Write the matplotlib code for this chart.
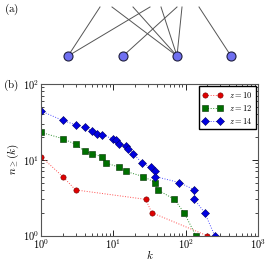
import numpy as np
import matplotlib
matplotlib.use("Agg")
import matplotlib.pyplot as plt

plt.rcParams['mathtext.fontset'] = 'cm'
plt.rcParams['font.family'] = 'serif'
plt.rcParams['font.serif'] = ['DejaVu Serif']

# panel (a): bipartite sketch, top ends and bottom nodes (pixel coords)
node_x = [68, 123, 177, 231]
edge_top = [100, 112, 133, 150, 161, 177, 182, 199]
edge_node = [0, 2, 2, 0, 2, 1, 2, 3]

# panel (b): cumulative degree counts
k10 = [1, 2, 3, 28, 34, 195]
n10 = [11, 6, 4, 3, 2, 1]
k12 = [1, 2, 3, 4, 5, 7, 8, 12, 15, 26, 38, 41, 70, 95, 138]
n12 = [23, 19, 16, 13, 12, 11, 9, 8, 7, 6, 5, 4, 3, 2, 1]
k14 = [1, 2, 3, 4, 5, 6, 7, 10, 11, 12, 15, 16, 19, 25, 33, 38, 38, 82, 132, 132, 183, 252]
n14 = [44, 33, 29, 27, 24, 22, 21, 19, 18, 16, 15, 14, 12, 9, 8, 7, 6, 5, 4, 3, 2, 1]

fig = plt.figure(figsize=(2.67, 2.60), dpi=100)

axa = fig.add_axes([0, 1 - 70/260., 1, 70/260.])
axa.set_xlim(0, 267)
axa.set_ylim(70, 0)
axa.axis('off')
for xt, j in zip(edge_top, edge_node):
    axa.plot([xt, node_x[j]], [7, 56], color='#555555', lw=0.7, zorder=1)
axa.plot(node_x, [56]*len(node_x), 'o', ms=6.5, mfc='#6f6ff0', mec='#202040', mew=0.8, zorder=2)
fig.text(0.015, 0.965, r'$\mathrm{(a)}$', fontsize=8, va='center')

ax = fig.add_axes([41/267., 1 - 235.5/260., 217/267., 151.5/260.])
ax.plot(k10, n10, ':', color='#ff5050', lw=0.7, marker='o', ms=3.8, mfc='#e00000', mec='#700000', mew=0.4, label=r'$z=10$')
ax.plot(k12, n12, ':', color='#309030', lw=0.7, marker='s', ms=3.8, mfc='#007000', mec='#003000', mew=0.4, label=r'$z=12$')
ax.plot(k14, n14, ':', color='#5050ff', lw=0.7, marker='D', ms=3.8, mfc='#0000e0', mec='#000060', mew=0.4, label=r'$z=14$')
ax.set_xscale('log')
ax.set_yscale('log')
ax.set_xlim(1, 1000)
ax.set_ylim(1, 100)
ax.set_xticks([1, 10, 100, 1000])
ax.set_xticklabels([r'$10^0$', r'$10^1$', r'$10^2$', r'$10^3$'])
ax.set_yticks([1, 10, 100])
ax.set_yticklabels([r'$10^0$', r'$10^1$', r'$10^2$'])
ax.tick_params(which='both', direction='in', top=True, right=True, labelsize=7.5, pad=1.5)
ax.tick_params(which='major', length=4, width=0.6)
ax.tick_params(which='minor', length=2, width=0.5)
for s in ax.spines.values():
    s.set_color('#555555')
ax.set_xlabel(r'$k$', fontsize=8, labelpad=-2)
ax.set_ylabel(r'$n_{\geq}(k)$', fontsize=8, labelpad=1)
leg = ax.legend(loc='upper right', fontsize=6, numpoints=2, fancybox=False, framealpha=1,
                handlelength=2.4, borderpad=0.4, labelspacing=0.35, borderaxespad=0.3)
leg.get_frame().set_edgecolor('black')
fig.text(0.01, 0.672, r'$\mathrm{(b)}$', fontsize=8, va='center')

fig.savefig('out.png', dpi=100)
